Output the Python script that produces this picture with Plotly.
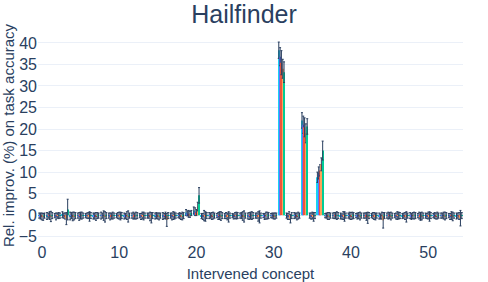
import plotly.graph_objects as go

concepts = list(range(55))

cyan_vals = [-0.1,-0.2,-0.1,0.1,-0.2,-0.1,-0.1,-0.2,-0.1,-0.1,-0.1,-0.2,-0.1,-0.1,-0.1,-0.2,-0.2,-0.1,-0.1,0.6,1.1,-0.2,-0.1,-0.1,-0.2,-0.1,-0.1,-0.2,-0.1,-0.1,-0.1,38.3,-0.1,-0.1,22.0,-0.1,8.8,-0.1,-0.1,-0.2,-0.1,-0.1,-0.1,-0.1,-0.2,-0.1,-0.1,-0.2,-0.1,-0.1,-0.1,-0.1,-0.1,-0.1,-0.2]
cyan_err = [0.6,0.8,0.5,0.7,0.9,0.6,0.5,0.7,0.8,0.6,0.5,0.7,0.6,0.5,0.6,0.7,0.8,0.6,0.5,0.7,0.8,0.6,0.7,0.5,0.6,0.5,0.6,0.7,0.6,0.5,0.5,1.9,0.6,0.7,1.8,0.6,1.2,0.5,0.6,0.7,0.6,0.5,0.6,0.5,0.7,0.6,0.5,0.6,0.7,0.5,0.6,0.5,0.6,0.5,0.7]
blue_vals = [-0.2,-0.1,-0.3,-0.1,-0.1,-0.3,-0.1,-0.2,-0.1,-0.3,-0.1,-0.2,-0.1,-0.3,-0.1,-0.1,-0.2,-0.3,-0.1,0.4,0.8,-0.3,-0.1,-0.2,-0.1,-0.3,-0.1,-0.2,-0.1,-0.3,-0.1,36.8,-0.3,-0.1,21.0,-0.2,9.8,-0.1,-0.1,-0.3,-0.1,-0.2,-0.1,-0.1,-0.3,-0.1,-0.2,-0.1,-0.3,-0.1,-0.2,-0.1,-0.1,-0.3,-0.1]
blue_err = [0.7,0.6,0.8,0.6,0.7,0.9,0.6,0.7,0.6,0.8,0.7,0.6,0.8,0.7,0.6,0.7,0.6,0.8,0.7,0.6,0.9,0.7,0.6,0.8,0.7,0.6,0.7,0.8,0.6,0.7,0.6,2.1,0.7,0.6,2.0,0.7,1.4,0.6,0.7,0.6,0.8,0.7,0.6,0.7,0.6,0.8,0.7,0.6,0.7,0.8,0.6,0.7,0.6,0.7,0.6]
red_vals = [-0.3,-0.1,-0.1,-0.2,-0.3,-0.1,-0.1,-0.3,-0.1,-0.2,-0.1,-0.1,-0.2,-0.1,-0.3,-0.2,-0.1,-0.1,-0.3,0.3,0.6,-0.1,-0.2,-0.1,-0.3,-0.1,-0.2,-0.1,-0.3,-0.1,-0.2,35.4,-0.1,-0.3,20.4,-0.1,10.4,-0.2,-0.1,-0.1,-0.2,-0.1,-0.3,-0.2,-0.1,-0.1,-0.1,-0.2,-0.1,-0.3,-0.1,-0.2,-0.1,-0.1,-0.2]
red_err = [0.8,0.9,0.6,0.7,1.0,0.8,0.7,0.9,1.1,0.7,0.8,0.9,0.7,0.8,1.0,0.7,0.8,0.9,0.7,0.8,0.7,1.2,0.8,0.9,0.8,0.7,1.0,0.8,1.1,0.8,0.7,2.8,0.9,0.8,2.2,0.8,1.3,0.8,0.7,0.9,0.8,0.7,0.9,0.8,0.8,0.7,0.9,0.8,0.7,0.9,0.8,0.7,0.8,0.9,0.8]
orange_vals = [-0.4,-0.3,-0.1,-0.8,-0.2,-0.1,-0.3,-0.1,-0.4,-0.1,-0.2,-0.3,-0.1,-0.2,-0.6,-0.3,-1.1,-0.1,-0.2,0.2,2.0,-0.3,-0.1,-0.2,-0.4,-0.1,-0.3,-0.1,-0.4,-0.1,-0.2,34.0,-0.8,-0.1,19.0,-0.4,11.8,-0.2,-0.1,-0.3,-0.1,-0.2,-0.6,-0.3,-1.2,-0.2,-0.1,-0.4,-0.1,-0.2,-0.3,-0.1,-0.2,-0.3,-0.7]
orange_err = [0.8,1.2,0.7,1.4,0.9,0.8,1.1,0.7,1.2,0.8,0.9,1.3,0.8,0.9,1.2,0.8,1.5,0.8,0.9,0.7,1.0,1.1,0.8,1.0,1.2,0.8,1.3,0.9,1.4,0.8,0.7,2.2,1.0,0.8,2.2,1.0,1.5,0.8,0.9,1.1,0.8,0.9,1.3,0.8,1.8,0.9,0.8,1.2,0.8,0.9,1.1,0.8,0.9,1.0,1.8]
green_vals = [-0.1,-0.1,-0.1,1.3,-0.1,-0.1,-0.1,-0.1,-0.1,-0.1,-0.1,-0.1,-0.1,-0.1,-0.1,-0.1,-0.1,-0.1,-0.1,0.5,4.6,-0.1,-0.1,-0.1,-0.1,-0.1,-0.1,-0.1,-0.1,-0.1,-0.1,33.2,-0.1,-0.1,20.6,-0.1,15.0,-0.1,-0.1,-0.1,-0.1,-0.1,-0.1,-0.1,-0.1,-0.1,-0.1,-0.1,-0.1,-0.1,-0.1,-0.1,-0.1,-0.1,-0.1]
green_err = [0.6,0.7,0.6,2.4,0.7,0.6,0.7,0.6,0.7,0.6,0.7,0.6,0.7,0.6,0.7,0.6,0.7,0.6,0.7,0.6,1.8,0.7,0.6,0.7,0.6,0.7,0.6,0.7,0.6,0.7,0.6,2.4,0.7,0.6,1.8,0.7,2.2,0.6,0.7,0.6,0.7,0.6,0.7,0.6,0.7,0.6,0.7,0.6,0.7,0.6,0.7,0.6,0.7,0.6,0.7]

series = [
    ("s1", cyan_vals, cyan_err, "#19d3f3"),
    ("s2", blue_vals, blue_err, "#636efa"),
    ("s3", red_vals, red_err, "#EF553B"),
    ("s4", orange_vals, orange_err, "#FFA15A"),
    ("s5", green_vals, green_err, "#00cc96"),
]

fig = go.Figure()
for name, vals, errs, col in series:
    fig.add_trace(go.Bar(
        x=concepts, y=vals, name=name, marker_color=col, marker_line_width=0,
        error_y=dict(type="data", array=errs, visible=True, color="#2a3f5f", thickness=1, width=1),
    ))

fig.update_layout(
    template="plotly_white",
    width=488, height=282,
    barmode="group", bargap=0.15, bargroupgap=0.0,
    showlegend=False,
    font=dict(family="Arial", size=16, color="#2a3f5f"),
    title=dict(text="Hailfinder", x=0.5, xanchor="center", yref="container", y=0.951,
               yanchor="middle", font=dict(size=25)),
    margin=dict(l=38, r=25, t=30, b=41),
    xaxis=dict(title=dict(text="Intervened concept", standoff=8, font=dict(size=15)),
               range=[-0.5, 54.5], automargin=False,
               tickvals=[0, 10, 20, 30, 40, 50], showgrid=False, zeroline=False),
    yaxis=dict(title=dict(text="Rel. improv. (%) on task accuracy", standoff=4, font=dict(size=15)),
               range=[-6.0, 43.0], automargin=False,
               tickvals=[-5, 0, 5, 10, 15, 20, 25, 30, 35, 40]),
)
fig.write_html("out.html", config={"displayModeBar": False},
               post_script="document.body.style.margin='0';")
